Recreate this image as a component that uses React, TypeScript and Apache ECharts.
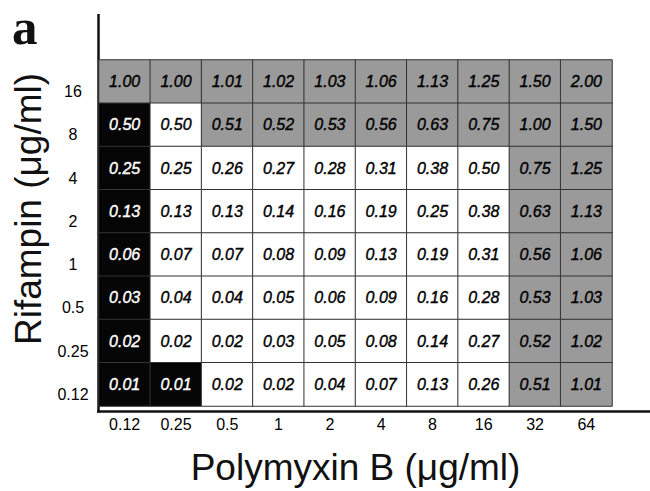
import React, { useEffect, useRef } from "react";
import * as echarts from "echarts";

const polymyxin = ["0.12", "0.25", "0.5", "1", "2", "4", "8", "16", "32", "64"];
// rows listed from bottom (0.12) to top (16)
const rifampin = ["0.12", "0.25", "0.5", "1", "2", "4", "8", "16"];

// values, top row (16) first
const row16 = [1.0, 1.0, 1.01, 1.02, 1.03, 1.06, 1.13, 1.25, 1.5, 2.0];
const row8 = [0.5, 0.5, 0.51, 0.52, 0.53, 0.56, 0.63, 0.75, 1.0, 1.5];
const row4 = [0.25, 0.25, 0.26, 0.27, 0.28, 0.31, 0.38, 0.5, 0.75, 1.25];
const row2 = [0.13, 0.13, 0.13, 0.14, 0.16, 0.19, 0.25, 0.38, 0.63, 1.13];
const row1 = [0.06, 0.07, 0.07, 0.08, 0.09, 0.13, 0.19, 0.31, 0.56, 1.06];
const row05 = [0.03, 0.04, 0.04, 0.05, 0.06, 0.09, 0.16, 0.28, 0.53, 1.03];
const row025 = [0.02, 0.02, 0.02, 0.03, 0.05, 0.08, 0.14, 0.27, 0.52, 1.02];
const row012 = [0.01, 0.01, 0.02, 0.02, 0.04, 0.07, 0.13, 0.26, 0.51, 1.01];
const valueRows = [row16, row8, row4, row2, row1, row05, row025, row012];

// cell class: 0 = black, 1 = white, 2 = gray (top row first)
const class16 = [2, 2, 2, 2, 2, 2, 2, 2, 2, 2];
const class8 = [0, 1, 2, 2, 2, 2, 2, 2, 2, 2];
const class4 = [0, 1, 1, 1, 1, 1, 1, 1, 2, 2];
const class2 = [0, 1, 1, 1, 1, 1, 1, 1, 2, 2];
const class1 = [0, 1, 1, 1, 1, 1, 1, 1, 2, 2];
const class05 = [0, 1, 1, 1, 1, 1, 1, 1, 2, 2];
const class025 = [0, 1, 1, 1, 1, 1, 1, 1, 2, 2];
const class012 = [0, 0, 1, 1, 1, 1, 1, 1, 2, 2];
const classRows = [class16, class8, class4, class2, class1, class05, class025, class012];

const fillColors = ["#050505", "#ffffff", "#9a9a9a"];
const textColors = ["#ffffff", "#000000", "#000000"];

export default function App() {
  const ref = useRef<HTMLDivElement>(null);
  useEffect(() => {
    if (!ref.current) return;
    const chart = echarts.init(ref.current, null, { renderer: "svg" });
    const nRows = valueRows.length;
    const data: any[] = [];
    valueRows.forEach((row, ri) => {
      const yi = nRows - 1 - ri;
      row.forEach((v, xi) => {
        const c = classRows[ri][xi];
        data.push({
          value: [xi, yi, v, c],
          label: {
            color: textColors[c],
            textBorderColor: textColors[c],
            textBorderWidth: 0.4,
          },
        });
      });
    });
    const font = "Liberation Sans, Arial, Helvetica, sans-serif";
    chart.setOption({
      animation: false,
      grid: { left: 99, top: 60, right: 38, bottom: 79, containLabel: false },
      visualMap: {
        show: false,
        type: "piecewise",
        dimension: 3,
        pieces: [
          { value: 0, color: fillColors[0] },
          { value: 1, color: fillColors[1] },
          { value: 2, color: fillColors[2] },
        ],
      },
      xAxis: {
        type: "category",
        data: polymyxin,
        axisLine: { show: false },
        axisTick: { show: false },
        splitLine: { show: false },
        axisLabel: { color: "#000", fontSize: 16, fontFamily: font, margin: 10 },
        name: "Polymyxin B (μg/ml)",
        nameLocation: "middle",
        nameGap: 43,
        nameTextStyle: { color: "#111", fontSize: 37, fontFamily: font },
      },
      yAxis: {
        type: "category",
        data: rifampin,
        axisLine: { show: false },
        axisTick: { show: false },
        splitLine: { show: false },
        axisLabel: {
          color: "#000",
          fontSize: 16,
          fontFamily: font,
          align: "center",
          verticalAlign: "top",
          lineHeight: 20,
          margin: 26,
        },
        name: "Rifampin (μg/ml)",
        nameLocation: "middle",
        nameGap: 50,
        nameRotate: 90,
        nameTextStyle: {
          color: "#111",
          fontSize: 37,
          fontFamily: font,
          padding: [0, 0, 0, 48],
        },
      },
      series: [
        {
          type: "heatmap",
          data,
          itemStyle: { borderColor: "#333", borderWidth: 1 },
          label: {
            show: true,
            fontSize: 16,
            fontStyle: "italic",
            fontFamily: font,
            formatter: (p: any) => p.value[2].toFixed(2),
          },
          emphasis: { disabled: true },
        },
      ],
      graphic: [
        {
          type: "line",
          shape: { x1: 98.5, y1: 14, x2: 98.5, y2: 412.5 },
          style: { stroke: "#111", lineWidth: 2.5 },
        },
        {
          type: "line",
          shape: { x1: 97, y1: 411.5, x2: 650, y2: 411.5 },
          style: { stroke: "#111", lineWidth: 2.5 },
        },
        {
          type: "text",
          x: 12,
          y: 27,
          style: {
            text: "a",
            fontSize: 51,
            fontWeight: "bold",
            fontFamily: "Liberation Serif, Times New Roman, serif",
            fill: "#111",
            verticalAlign: "middle",
          },
        },
      ],
    });
    return () => chart.dispose();
  }, []);
  return (
    <div
      ref={ref}
      style={{ position: "absolute", left: 0, top: 0, width: 650, height: 491 }}
    />
  );
}
